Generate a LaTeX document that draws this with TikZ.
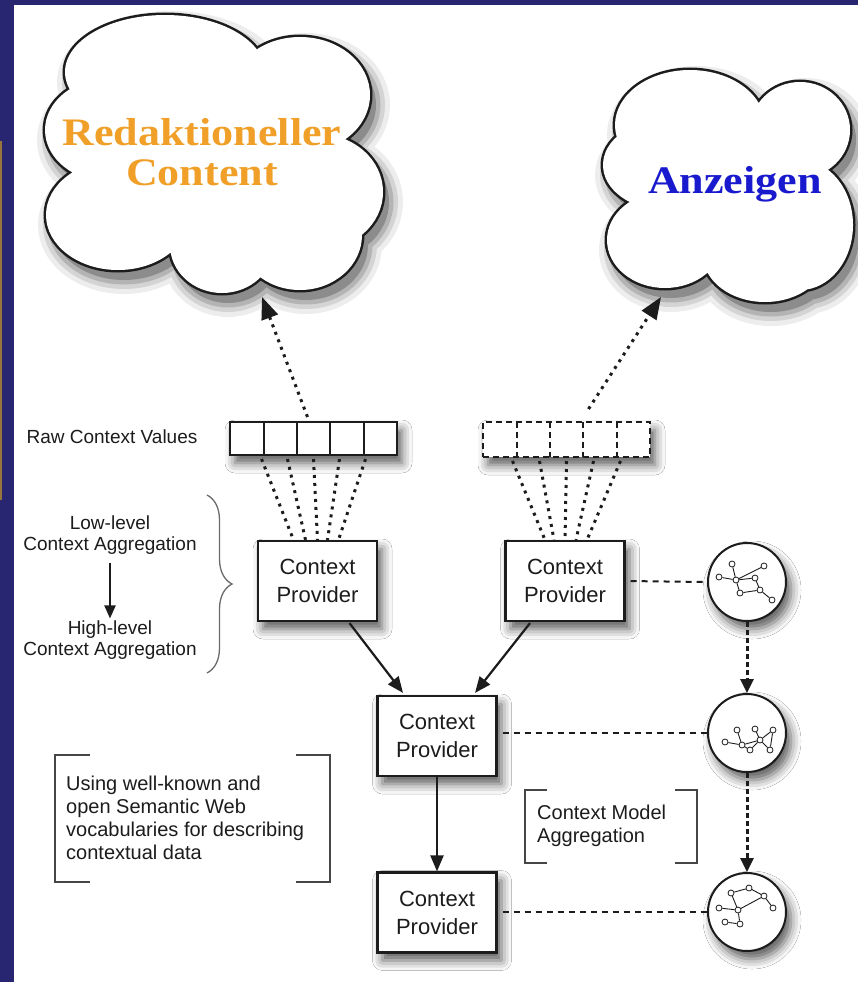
\documentclass[tikz,border=0pt]{standalone}
\usepackage{fontspec}
\setmainfont{Liberation Sans}
\newfontfamily\cloudfont[FakeStretch=1.13]{Liberation Serif}
\usetikzlibrary{arrows.meta,shadows.blur,decorations.pathreplacing,calc}
\definecolor{navy}{RGB}{40,38,112}
\definecolor{olivestrip}{RGB}{150,118,60}
\definecolor{ink}{RGB}{28,28,28}
\definecolor{orangetxt}{RGB}{240,160,40}
\definecolor{bluetxt}{RGB}{25,25,205}
\definecolor{bracketgray}{RGB}{70,70,70}

\newcommand{\CloudAshape}[1]{%
  \path[#1] (165,72) ellipse[x radius=100,y radius=57]
    (300,95) ellipse[x radius=70,y radius=58]
    (318,192) ellipse[x radius=65,y radius=58]
    (300,235) ellipse[x radius=62,y radius=55]
    (222,245) ellipse[x radius=52,y radius=48]
    (118,215) ellipse[x radius=72,y radius=55]
    (110,130) ellipse[x radius=65,y radius=52]
    (215,165) ellipse[x radius=110,y radius=95];}
\newcommand{\CloudBshape}[1]{%
  \path[#1] (690,125) ellipse[x radius=75,y radius=55]
    (800,130) ellipse[x radius=50,y radius=48]
    (800,225) ellipse[x radius=53,y radius=65]
    (765,255) ellipse[x radius=62,y radius=47]
    (665,240) ellipse[x radius=58,y radius=48]
    (665,165) ellipse[x radius=62,y radius=45]
    (730,190) ellipse[x radius=85,y radius=80];}
\newcommand{\CloudLayers}[1]{%
  \begin{scope}[transparency group, opacity=0.07]#1{fill=black,draw=black,line width=28pt,shift={(6,10)}}\end{scope}
  \begin{scope}[transparency group, opacity=0.10]#1{fill=black,draw=black,line width=18pt,shift={(6,10)}}\end{scope}
  \begin{scope}[transparency group, opacity=0.15]#1{fill=black,draw=black,line width=9pt,shift={(6,10)}}\end{scope}
  \begin{scope}[transparency group, opacity=0.22]#1{fill=black,shift={(6,10)}}\end{scope}
  #1{draw=ink,line width=5pt}
  #1{fill=white}}

\tikzset{
  shad/.style={blur shadow={shadow xshift=5pt, shadow yshift=-8pt, shadow blur radius=10pt, shadow opacity=65}},
  lbl/.style={font=\fontsize{19}{21}\selectfont, text=ink, align=center, inner sep=0pt},
  note/.style={font=\fontsize{20}{23}\selectfont, text=ink, align=left, inner sep=0pt},
  cpbox/.style={draw=ink, line width=2.2pt, fill=white, shad, minimum width=119pt, minimum height=80pt, align=center, inner sep=0pt, font=\fontsize{22}{28}\selectfont, text=ink},
  model/.style={circle, draw=ink, line width=2pt, fill=white, shad, minimum size=78pt, inner sep=0pt},
  rawbox/.style={line width=2pt, fill=white, shad, minimum width=167pt, inner sep=0pt},
  cell/.style={minimum width=33.4pt, minimum height=33pt, inner sep=0pt},
  dotline/.style={ink, line width=3pt, dash pattern=on 3pt off 5pt},
  hdash/.style={ink, line width=2pt, dash pattern=on 6pt off 5pt},
  vdash/.style={ink, line width=3pt, dash pattern=on 5pt off 3pt, -{Triangle[length=14pt,width=13pt]}},
  arr/.style={ink, line width=2.2pt, -{Triangle[length=16pt,width=13pt]}},
  bracketline/.style={bracketgray, line width=1.6pt},
  gn/.style={circle, draw=ink, fill=white, line width=0.8pt, inner sep=0pt, minimum size=6pt},
  ge/.style={ink, line width=0.9pt},
  cloudtxt/.style={font=\cloudfont\bfseries\fontsize{39}{40}\selectfont, anchor=base, inner sep=0pt}
}

\begin{document}
\begin{tikzpicture}[x=1pt,y=-1pt]
\useasboundingbox (0,0) rectangle (858,982);
\fill[navy] (0,0) rectangle (858,982);
\fill[white] (14,5) rectangle (858,982);
\draw[olivestrip, line width=2pt] (1,141) -- (1,500);

% clouds
\CloudLayers{\CloudAshape}
\CloudLayers{\CloudBshape}
\node[cloudtxt, text=orangetxt] (red1) at (202,145) {Redaktioneller};
\node[cloudtxt, text=orangetxt] (red2) at (202,185) {Content};
\node[cloudtxt, text=bluetxt] (anz) at (735,193) {Anzeigen};
\coordinate (cloudAin) at (262,297);
\coordinate (cloudBin) at (661,297);

% raw context values
\node[lbl] (rawlbl) at (112,437) {Raw Context Values};
\node[rawbox, draw=ink, minimum height=33pt] (rawL) at (313.5,438.5) {};
\foreach \i in {1,...,5} \node[cell] (l\i) at (230+33.4*\i-16.7,438.5) {};
\foreach \i in {1,...,4} \draw[ink, line width=2pt] (l\i.north east) -- (l\i.south east);
\node[rawbox, draw=ink, dash pattern=on 6pt off 4pt, minimum height=35pt] (rawR) at (566.5,439.5) {};
\foreach \i in {1,...,5} \node[cell, minimum height=35pt] (q\i) at (483+33.4*\i-16.7,439.5) {};
\foreach \i in {1,...,4} \draw[ink, line width=2pt, dash pattern=on 6pt off 4pt] (q\i.north east) -- (q\i.south east);

% context providers
\node[cpbox] (cp1) at (317.5,581) {Context\\Provider};
\node[cpbox] (cp2) at (565,581) {Context\\Provider};
\node[cpbox] (cp3) at (437,736) {Context\\Provider};
\node[cpbox] (cp4) at (437,912.5) {Context\\Provider};

% context models
\node[model] (m1) at (747,582) {};
\node[model] (m2) at (747,733) {};
\node[model] (m3) at (747,912) {};

% arrows to clouds
\draw[dotline, -{Triangle[length=22pt,width=17pt]}] ($(rawL.north)+(-6,-4)$) -- (cloudAin);
\draw[dotline, -{Triangle[length=22pt,width=17pt]}] ($(rawR.north)+(22,-12)$) -- (cloudBin);

% dotted fans
\foreach \o/\t in {-52/-24,-26/-12,0/0,26/10,52/21}
  \draw[dotline] ($(rawL.south)+(\o,3)$) -- ($(cp1.north)+(\t,0)$);
\foreach \o/\t in {-54/-20,-27/-11,0/0,27/11,54/22}
  \draw[dotline] ($(rawR.south)+(\o,3)$) -- ($(cp2.north)+(\t,0)$);

% provider arrows
\draw[arr] ($(cp1.south)+(32,1)$) -- ($(cp3.north)+(-34,-2)$);
\draw[arr] ($(cp2.south)+(-35,1)$) -- ($(cp3.north)+(38,-2)$);
\draw[arr] (cp3.south) -- (cp4.north);

% model links
\draw[hdash, shorten <=5pt] (cp2.east) -- (m1.west);
\draw[hdash, shorten <=5pt] (cp3.east |- m2.west) -- (m2.west);
\draw[hdash, shorten <=5pt] (cp4.east |- m3.west) -- (m3.west);
\draw[vdash] (m1.south) -- (m2.north);
\draw[vdash] (m2.south) -- (m3.north);

% graphs in models
\begin{scope}[shift={(m1.center)}]
  \foreach \n/\p in {a/{(-15,-18)},b/{(17,-16)},c/{(-28,-5)},d/{(-11,-2)},e/{(8,-4)},f/{(13,8)},g/{(-7,11)},h/{(25,18)}}
    \node[gn] (ga\n) at \p {};
  \draw[ge] (gac) -- (gad) -- (gab) (gaa) -- (gad) -- (gag) -- (gaf) -- (gae) -- (gad) (gaf) -- (gah);
\end{scope}
\begin{scope}[shift={(m2.center)}]
  \foreach \n/\p in {a/{(-22,9)},b/{(-10,-3)},c/{(-5,12)},d/{(3,17)},e/{(8,-4)},f/{(13,7)},g/{(26,-3)},h/{(23,17)}}
    \node[gn] (gb\n) at \p {};
  \draw[ge] (gba) -- (gbc) -- (gbb) (gbc) -- (gbd) -- (gbf) -- (gbe) (gbf) -- (gbg) -- (gbh) -- (gbf) (gbc) -- (gbf);
\end{scope}
\begin{scope}[shift={(m3.center)}]
  \foreach \n/\p in {a/{(-16,-19)},b/{(2,-24)},c/{(17,-16)},d/{(-28,-4)},e/{(-9,-2)},f/{(26,-4)},g/{(-22,10)},h/{(-7,12)}}
    \node[gn] (gc\n) at \p {};
  \draw[ge] (gca) -- (gcb) -- (gcc) -- (gcf) (gca) -- (gce) (gcd) -- (gce) -- (gcc) (gce) -- (gch) -- (gcg);
\end{scope}

% left labels, brace
\node[lbl] (low) at (110,535) {Low-level\\Context Aggregation};
\node[lbl] (high) at (110,640) {High-level\\Context Aggregation};
\draw[ink, line width=2pt, -{Triangle[length=13pt,width=11pt]}, shorten <=8pt, shorten >=2pt] (low.south) -- (high.north);
\draw[bracketgray!80, line width=1.3pt, decorate, decoration={brace, amplitude=25pt}] (207,495) -- (207,673);

% notes with brackets
\node[note, anchor=west] (vocab) at (66,818) {Using well-known and\\open Semantic Web\\vocabularies for describing\\contextual data};
\draw[bracketline] (90,755) -- (55,755) -- (55,882) -- (90,882);
\draw[bracketline] (296,755) -- (330,755) -- (330,882) -- (296,882);
\node[note, anchor=west] (cma) at (537,826) {Context Model\\Aggregation};
\draw[bracketline] (547,790) -- (525,790) -- (525,863) -- (547,863);
\draw[bracketline] (675,790) -- (697,790) -- (697,863) -- (675,863);
\end{tikzpicture}
\end{document}
